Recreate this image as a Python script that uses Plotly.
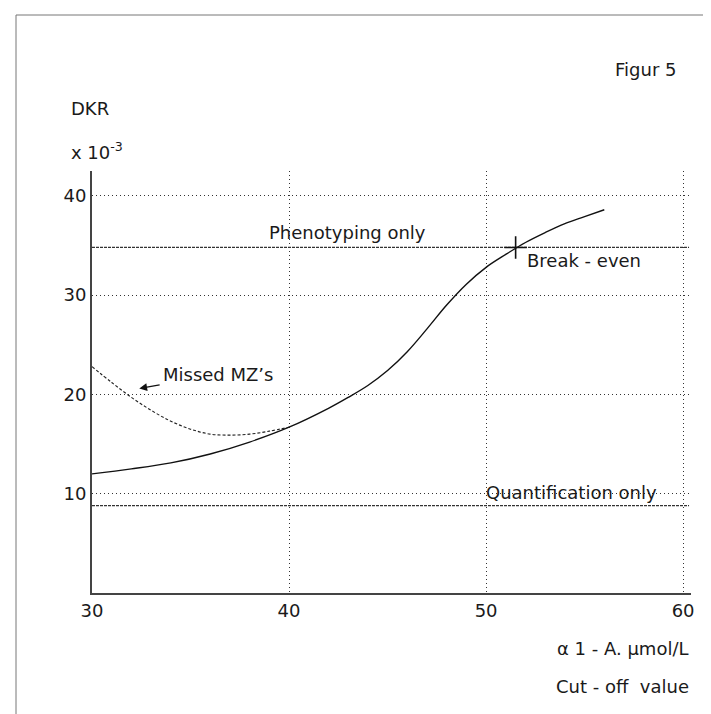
import plotly.graph_objects as go

# ---- data ----
cutoff_main = [30, 32, 34, 36, 38, 40, 42, 43, 44, 45, 46, 47, 48, 49, 50, 51, 52, 53, 54, 55, 56]
dkr_main = [12.0, 12.5, 13.1, 14.0, 15.2, 16.7, 18.6, 19.7, 20.9, 22.4, 24.3, 26.6, 29.0, 31.1, 32.8, 34.1, 35.3, 36.3, 37.2, 37.9, 38.6]

cutoff_missed = [30, 31, 32, 33, 34, 35, 36, 37, 38, 39, 40]
dkr_missed = [22.8, 21.2, 19.7, 18.4, 17.3, 16.5, 16.0, 15.9, 16.0, 16.3, 16.7]

pheno_x = [30, 60.3]
pheno_y = [34.8, 34.8]
quant_x = [30, 60.3]
quant_y = [8.8, 8.8]

break_even_x = [51.5]
break_even_y = [34.8]

x_ticks = [30, 40, 50, 60]
y_ticks = [10, 20, 30, 40]

FONT = "DejaVu Sans"
INK = "#1a1a1a"

# plot-area pixel geometry
W, H = 711, 714
L, R, T, B = 84, 683, 163, 585


def px(x):
    return (x - L) / (R - L)


def py(y):
    return (B - y) / (B - T)


fig = go.Figure()

fig.add_trace(go.Scatter(x=pheno_x, y=pheno_y, mode="lines",
                         line=dict(color="#333", width=1.2, dash="3px,1px"),
                         hoverinfo="skip", showlegend=False))
fig.add_trace(go.Scatter(x=quant_x, y=quant_y, mode="lines",
                         line=dict(color="#333", width=1.2, dash="3px,1px"),
                         hoverinfo="skip", showlegend=False))
fig.add_trace(go.Scatter(x=cutoff_missed, y=dkr_missed, mode="lines",
                         line=dict(color="#222", width=1.1, dash="3px,2px", shape="spline"),
                         showlegend=False))
fig.add_trace(go.Scatter(x=cutoff_main, y=dkr_main, mode="lines",
                         line=dict(color="#111", width=1.4, shape="spline", smoothing=1.0),
                         showlegend=False))
fig.add_trace(go.Scatter(x=break_even_x, y=break_even_y, mode="markers",
                         marker=dict(symbol="cross-thin", size=16, line=dict(color="#111", width=1.6)),
                         showlegend=False))

txt = dict(family=FONT, size=18, color=INK)

annotations = [
    dict(x=38.9, y=36.3, xref="x", yref="y", text="Phenotyping only", showarrow=False,
         xanchor="left", yanchor="middle", font=txt),
    dict(x=52.0, y=33.5, xref="x", yref="y", text="Break - even", showarrow=False,
         xanchor="left", yanchor="middle", font=txt),
    dict(x=49.9, y=10.1, xref="x", yref="y", text="Quantification only", showarrow=False,
         xanchor="left", yanchor="middle", font=txt),
    # label with arrow pointing at the dashed curve
    dict(x=32.4, y=20.6, xref="x", yref="y", ax=36.4, ay=22.0, axref="x", ayref="y",
         text="Missed MZ\u2019s", showarrow=True, arrowhead=2, arrowsize=1.3, arrowwidth=1.2,
         arrowcolor="#111", standoff=0, startstandoff=2, font=txt),
    dict(x=px(61), y=py(100), xref="paper", yref="paper", text="DKR", showarrow=False,
         xanchor="left", yanchor="middle", font=txt),
    dict(x=px(61), y=py(143), xref="paper", yref="paper", text="x 10<sup>-3</sup>", showarrow=False,
         xanchor="left", yanchor="middle", font=txt),
    dict(x=px(670), y=py(62), xref="paper", yref="paper", text="Figur 5", showarrow=False,
         xanchor="right", yanchor="middle", font=txt),
    dict(x=px(683), y=py(640), xref="paper", yref="paper", text="\u03b1 1 - A. \u00b5mol/L", showarrow=False,
         xanchor="right", yanchor="middle", font=txt),
    dict(x=px(683), y=py(678), xref="paper", yref="paper", text="Cut - off  value", showarrow=False,
         xanchor="right", yanchor="middle", font=txt),
]

shapes = [
    dict(type="line", xref="paper", yref="paper", x0=px(8), x1=px(8), y0=py(7), y1=py(706),
         line=dict(color="#777", width=1)),
    dict(type="line", xref="paper", yref="paper", x0=px(8), x1=px(711), y0=py(7), y1=py(7),
         line=dict(color="#777", width=1)),
]

fig.update_layout(
    width=W, height=H,
    margin=dict(l=L, r=W - R, t=T, b=H - B, pad=0),
    paper_bgcolor="white", plot_bgcolor="white",
    font=dict(family=FONT, size=18, color=INK),
    annotations=annotations,
    shapes=shapes,
    showlegend=False,
)

fig.update_xaxes(range=[30, 60.4], tickvals=x_ticks, ticktext=[str(v) for v in x_ticks],
                 showgrid=True, gridcolor="#333", gridwidth=1, griddash="1px,3px",
                 showline=True, linecolor="#444", linewidth=2, ticks="", zeroline=False,
                 tickfont=dict(family=FONT, size=18, color=INK))
fig.update_yaxes(range=[0, 42.5], tickvals=y_ticks, ticktext=[str(v) for v in y_ticks],
                 showgrid=True, gridcolor="#333", gridwidth=1, griddash="1px,3px",
                 showline=True, linecolor="#444", linewidth=2, ticks="", zeroline=False,
                 tickfont=dict(family=FONT, size=18, color=INK))

fig.write_html("out.html")
